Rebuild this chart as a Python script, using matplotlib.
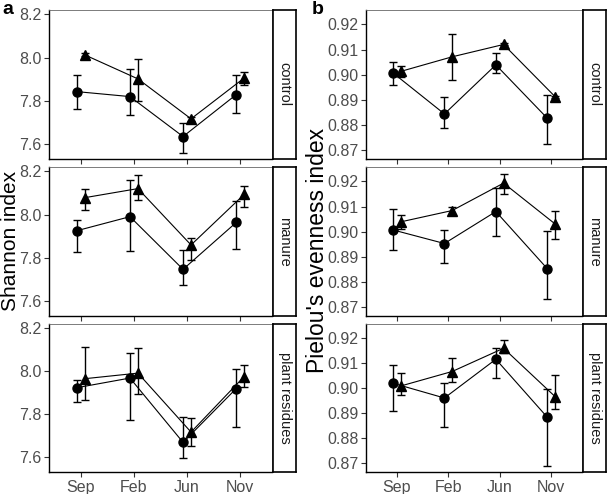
import numpy as np
import matplotlib
matplotlib.use('Agg')
from matplotlib import pyplot as plt

plt.rcParams['font.family'] = ['Liberation Sans', 'DejaVu Sans']

months = ['Sep', 'Feb', 'Jun', 'Nov']
treatments = ['control', 'manure', 'plant residues']

# Shannon index, circles (mean, lower, upper) per treatment
shannon_circ = [[7.842, 7.819, 7.634, 7.828],
                [7.925, 7.990, 7.746, 7.963],
                [7.923, 7.968, 7.668, 7.919]]
shannon_circ_lo = [[7.760, 7.736, 7.560, 7.742],
                   [7.827, 7.833, 7.672, 7.840],
                   [7.858, 7.772, 7.596, 7.742]]
shannon_circ_hi = [[7.921, 7.947, 7.696, 7.921],
                   [7.974, 8.159, 7.834, 8.062],
                   [7.960, 8.086, 7.785, 8.008]]
# Shannon index, triangles
shannon_tri = [[8.012, 7.901, 7.716, 7.905],
               [8.078, 8.120, 7.859, 8.093],
               [7.965, 7.991, 7.716, 7.975]]
shannon_tri_lo = [[8.005, 7.800, 7.708, 7.872],
                  [8.019, 8.067, 7.790, 8.035],
                  [7.865, 7.895, 7.649, 7.926]]
shannon_tri_hi = [[8.019, 7.992, 7.724, 7.935],
                  [8.116, 8.182, 7.891, 8.133],
                  [8.115, 8.108, 7.780, 8.031]]

# Pielou's evenness, circles
pielou_circ = [[0.9007, 0.8844, 0.9039, 0.8827],
               [0.9007, 0.8953, 0.9080, 0.8853],
               [0.9020, 0.8961, 0.9116, 0.8884]]
pielou_circ_lo = [[0.8961, 0.8788, 0.9007, 0.8724],
                  [0.8927, 0.8876, 0.8983, 0.8732],
                  [0.8908, 0.8847, 0.9043, 0.8691]]
pielou_circ_hi = [[0.9052, 0.8913, 0.9087, 0.8920],
                  [0.9089, 0.9007, 0.9173, 0.9004],
                  [0.9095, 0.9020, 0.9161, 0.8997]]
# Pielou's evenness, triangles
pielou_tri = [[0.9013, 0.9071, 0.9120, 0.8913],
              [0.9039, 0.9084, 0.9193, 0.9031],
              [0.9009, 0.9067, 0.9160, 0.8967]]
pielou_tri_lo = [[0.8991, 0.8980, 0.9116, 0.8909],
                 [0.9012, 0.9065, 0.9150, 0.8969],
                 [0.8975, 0.9027, 0.9139, 0.8916]]
pielou_tri_hi = [[0.9036, 0.9160, 0.9124, 0.8917],
                 [0.9065, 0.9100, 0.9231, 0.9081],
                 [0.9060, 0.9120, 0.9191, 0.9053]]

W, H = 609, 494
fig = plt.figure(figsize=(W / 100, H / 100), dpi=100)


def px_axes(x0, y0, x1, y1):
    return fig.add_axes([x0 / W, 1 - y1 / H, (x1 - x0) / W, (y1 - y0) / H])


rows = [(10, 159), (167, 316), (324, 472)]
panels = [
    dict(x0=49, x1=272, s0=273, s1=296, ylim=(7.53, 8.22),
         yticks=[7.6, 7.8, 8.0, 8.2], fmt='%.1f',
         circ=(shannon_circ, shannon_circ_lo, shannon_circ_hi),
         tri=(shannon_tri, shannon_tri_lo, shannon_tri_hi)),
    dict(x0=366, x1=582, s0=583, s1=606, ylim=(0.8665, 0.9257),
         yticks=[0.87, 0.88, 0.89, 0.90, 0.91, 0.92], fmt='%.2f',
         circ=(pielou_circ, pielou_circ_lo, pielou_circ_hi),
         tri=(pielou_tri, pielou_tri_lo, pielou_tri_hi)),
]

x = np.arange(1, len(months) + 1)
dodge = 0.075
grey = '#4D4D4D'

for p in panels:
    for r, (y0, y1) in enumerate(rows):
        ax = px_axes(p['x0'], y0, p['x1'], y1)
        for (vals, lo, hi), off, mk, ms in [(p['circ'], -dodge, 'o', 6.5),
                                           (p['tri'], dodge, '^', 6.5)]:
            v = np.array(vals[r])
            err = [v - np.array(lo[r]), np.array(hi[r]) - v]
            ax.errorbar(x + off, v, yerr=err, color='black', lw=0.8,
                        marker=mk, ms=ms, capsize=2.8, elinewidth=1.0,
                        capthick=1.0)
        ax.set_xlim(0.4, 4.6)
        ax.set_ylim(*p['ylim'])
        ax.set_yticks(p['yticks'])
        ax.set_yticklabels([p['fmt'] % t for t in p['yticks']])
        ax.set_xticks(x)
        if r == 2:
            ax.set_xticklabels(months)
        else:
            ax.set_xticklabels([])
            ax.tick_params(axis='x', length=0)
        ax.tick_params(colors='#333333', labelcolor=grey, labelsize=11.5,
                       length=3.5, width=0.8, pad=2)
        for side in ['top', 'right']:
            ax.spines[side].set_color('#666666')
            ax.spines[side].set_linewidth(0.6)
        for side in ['left', 'bottom']:
            ax.spines[side].set_color('black')
            ax.spines[side].set_linewidth(1.0)

        st = px_axes(p['s0'], y0, p['s1'], y1)
        st.set_xticks([])
        st.set_yticks([])
        for s in st.spines.values():
            s.set_linewidth(1.2)
        st.text(0.5, 0.5, treatments[r], rotation=270, ha='center',
                va='center', fontsize=10.5, color='#1A1A1A',
                transform=st.transAxes)

fig.text(10.5 / W, 1 - 241 / H, 'Shannon index', rotation=90, ha='center',
         va='center', fontsize=15)
fig.text(317 / W, 1 - 250 / H, "Pielou's evenness index", rotation=90,
         ha='center', va='center', fontsize=16.5)
fig.text(8 / W, 1 - 10 / H, 'a', fontsize=14, fontweight='bold',
         ha='center', va='center')
fig.text(318 / W, 1 - 10 / H, 'b', fontsize=14, fontweight='bold',
         ha='center', va='center')

fig.savefig('out.png', dpi=100)
